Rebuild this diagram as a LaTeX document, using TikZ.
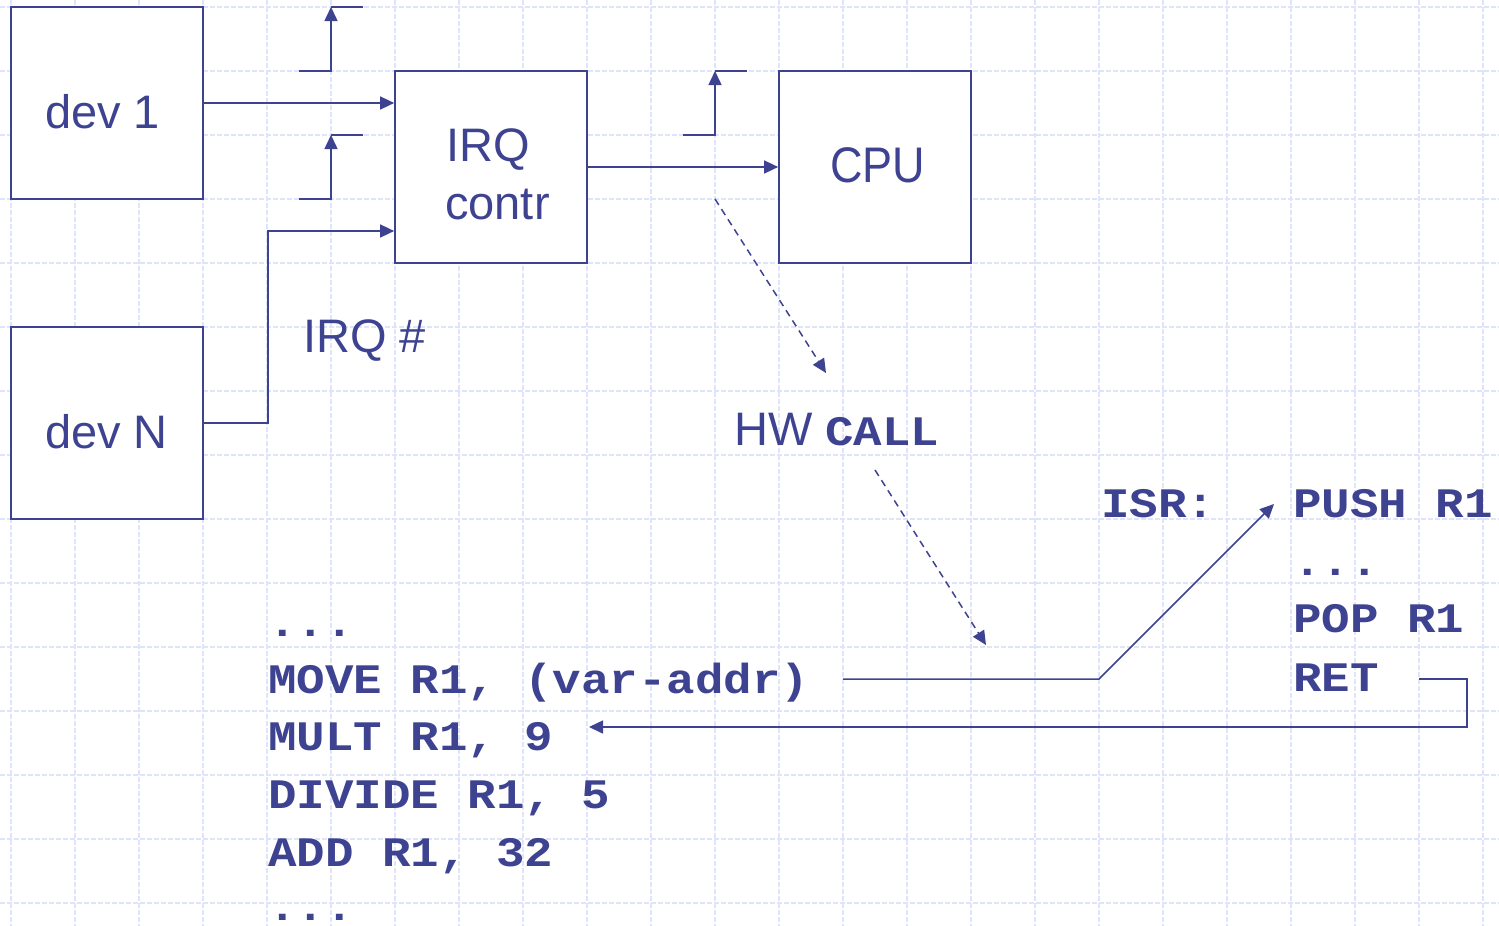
\documentclass[tikz,border=0pt]{standalone}
\usepackage{fontspec}
\setmainfont{Liberation Sans}
\newfontfamily\codefont[FakeStretch=1.13]{Liberation Mono}
\newfontfamily\cpufont[FakeStretch=0.9]{Liberation Sans}
\usetikzlibrary{arrows.meta}
\definecolor{ink}{RGB}{62,67,145}
\definecolor{gridc}{RGB}{222,228,250}
\tikzset{
  gridline/.style={gridc, line width=1.1pt, dash pattern=on 5pt off 2pt},
  boxnode/.style={draw=ink, line width=1.7pt, minimum width=192pt, minimum height=192pt, inner sep=0pt, fill=white},
  conn/.style={ink, line width=1.5pt, -{Triangle[length=14pt,width=13pt]}},
  plain/.style={ink, line width=1.5pt},
  dashconn/.style={ink, line width=1.5pt, dash pattern=on 7pt off 5pt, -{Triangle[length=14pt,width=13pt]}},
  sanstext/.style={ink, anchor=base west, inner sep=0pt, font=\fontsize{47}{50}\selectfont},
  cputext/.style={ink, anchor=base west, inner sep=0pt, font=\cpufont\fontsize{50}{54}\selectfont},
  codetext/.style={ink, anchor=base west, inner sep=0pt, font=\codefont\bfseries\fontsize{42}{50}\selectfont},
}
\begin{document}
\begin{tikzpicture}[x=1pt,y=-1pt]
\fill[white] (0,0) rectangle (1499,926);
\useasboundingbox (0,0) rectangle (1499,926);
% grid
\foreach \gx in {11,75,...,1483} \draw[gridline] (\gx,0) -- (\gx,926);
\foreach \gy in {7,71,...,903} \draw[gridline] (0,\gy) -- (1499,\gy);

% boxes
\node[boxnode] (dev1) at (107,103) {};
\node[boxnode] (devN) at (107,423) {};
\node[boxnode] (irq) at (491,167) {};
\node[boxnode] (cpu) at (875,167) {};

% box texts
\node[sanstext] (dev1t) at (45,128) {dev 1};
\node[sanstext] (devNt) at (45,448) {dev N};
\node[sanstext] (irqt1) at (446,161) {IRQ};
\node[sanstext] (irqt2) at (445,219) {contr};
\node[cputext] (cput) at (830,182) {CPU};

% labels
\node[sanstext] (irqnum) at (303,352) {IRQ \#};
\node[sanstext] (hw) at (734,445) {HW};
\node[codetext] (call) at (825,445) {CALL};

% ISR code
\node[codetext] (isr) at (1101,517) {ISR:};
\node[codetext] (push) at (1293,517) {PUSH R1};
\node[codetext] (idots) at (1293,575) {...};
\node[codetext] (pop) at (1293,632) {POP R1};
\node[codetext] (ret) at (1293,691) {RET};

% main code
\node[codetext] (mdots1) at (268,636) {...};
\node[codetext] (move) at (268,693) {MOVE R1, (var-addr)};
\node[codetext] (mult) at (268,750) {MULT R1, 9};
\node[codetext] (divide) at (268,808) {DIVIDE R1, 5};
\node[codetext] (add) at (268,866) {ADD R1, 32};
\node[codetext] (mdots2) at (268,920) {...};

% connectors between boxes
\draw[conn] (dev1.east) -- (irq.west |- dev1.east);
\draw[conn] (devN.east) -- ++(64,0) |- ([yshift=-64pt]irq.west);
\draw[conn] (irq.east) -- (cpu.west);

% edge symbols
\draw[conn] (299,71) -- (331,71) -- (331,7);
\draw[plain] (331,7) -- (363,7);
\draw[conn] (299,199) -- (331,199) -- (331,135);
\draw[plain] (331,135) -- (363,135);
\draw[conn] (683,135) -- (715,135) -- (715,71);
\draw[plain] (715,71) -- (747,71);

% HW CALL dashed arrows
\coordinate (d1s) at (715,199);
\coordinate (d1e) at (826,373);
\coordinate (d2s) at (875,470);
\coordinate (d2e) at (986,645);
\draw[dashconn] (d1s) -- (d1e);
\draw[dashconn] (d2s) -- (d2e);

% call and return
\coordinate (cs) at (843,679);
\coordinate (cb) at (1099,679);
\coordinate (ce) at (1274,504);
\draw[conn] (cs) -- (cb) -- (ce);
\coordinate (rs) at (1419,679);
\coordinate (rc) at (1467,679);
\coordinate (rd) at (1467,727);
\coordinate (re) at (589,727);
\draw[conn] (rs) -- (rc) -- (rd) -- (re);
\end{tikzpicture}
\end{document}
